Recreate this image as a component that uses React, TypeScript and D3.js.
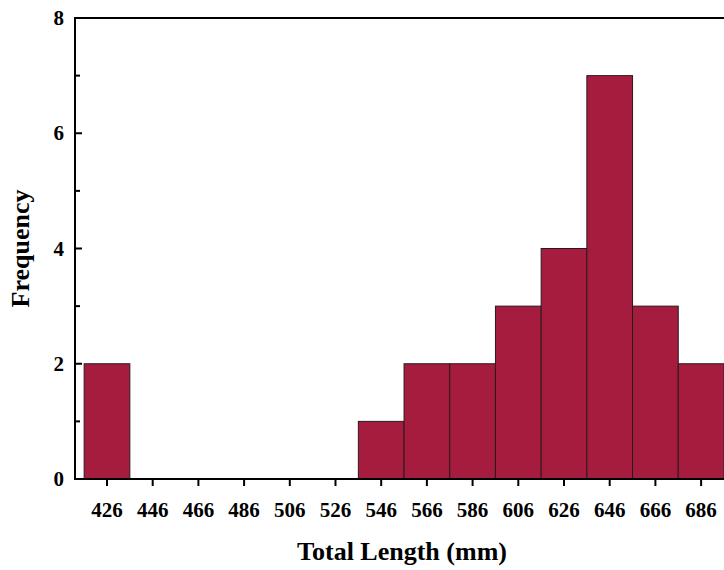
import React from "react";
import * as d3 from "d3";

const binCenters = [426, 446, 466, 486, 506, 526, 546, 566, 586, 606, 626, 646, 666, 686];
const frequencies = [2, 0, 0, 0, 0, 0, 1, 2, 2, 3, 4, 7, 3, 2];
const yMajorTicks = [0, 2, 4, 6, 8];
const yMinorTicks = [1, 3, 5, 7];
const binWidth = 20;

export default function App() {
  const W = 724, H = 570;
  const left = 75, right = 740, top = 18, bottom = 479;
  const x = d3.scaleLinear().domain([412, 426 + (right - 107) / 45.7 * 20]).range([left, right]);
  const y = d3.scaleLinear().domain([0, 8]).range([bottom, top]);
  const font = "'Liberation Serif', 'Times New Roman', serif";
  const fill = "#A61C3F";
  return (
    <svg width={W} height={H} style={{ position: "absolute", left: 0, top: 0 }}>
      <rect x={0} y={0} width={W} height={H} fill="#fff" />
      {binCenters.map((c, i) =>
        frequencies[i] > 0 ? (
          <rect key={c} x={x(c - binWidth / 2)} y={y(frequencies[i])}
            width={x(c + binWidth / 2) - x(c - binWidth / 2)} height={y(0) - y(frequencies[i])}
            fill={fill} stroke="#2a1a1e" strokeWidth={1} />
        ) : null
      )}
      <line x1={left} x2={right} y1={top} y2={top} stroke="#000" strokeWidth={2} />
      <line x1={left} x2={right} y1={bottom} y2={bottom} stroke="#000" strokeWidth={2} />
      <line x1={left} x2={left} y1={top - 1} y2={bottom + 1} stroke="#000" strokeWidth={2} />
      {yMajorTicks.map(t => (
        <g key={t}>
          <line x1={left} x2={left + 7} y1={y(t)} y2={y(t)} stroke="#000" strokeWidth={2} />
          <text x={64} y={y(t) + 7} textAnchor="end" fontFamily={font} fontWeight="bold" fontSize={21}>{t}</text>
        </g>
      ))}
      {yMinorTicks.map(t => (
        <line key={t} x1={left} x2={left + 5} y1={y(t)} y2={y(t)} stroke="#000" strokeWidth={2} />
      ))}
      {binCenters.map(c => (
        <g key={c}>
          <line x1={x(c)} x2={x(c)} y1={bottom} y2={bottom + 7} stroke="#000" strokeWidth={2} />
          <text x={x(c)} y={517} textAnchor="middle" fontFamily={font} fontWeight="bold" fontSize={21}>{c}</text>
        </g>
      ))}
      <text x={402} y={560} textAnchor="middle" fontFamily={font} fontWeight="bold" fontSize={26}>Total Length (mm)</text>
      <text transform={`translate(29,${(top + bottom) / 2}) rotate(-90)`} textAnchor="middle" fontFamily={font} fontWeight="bold" fontSize={26}>Frequency</text>
    </svg>
  );
}
